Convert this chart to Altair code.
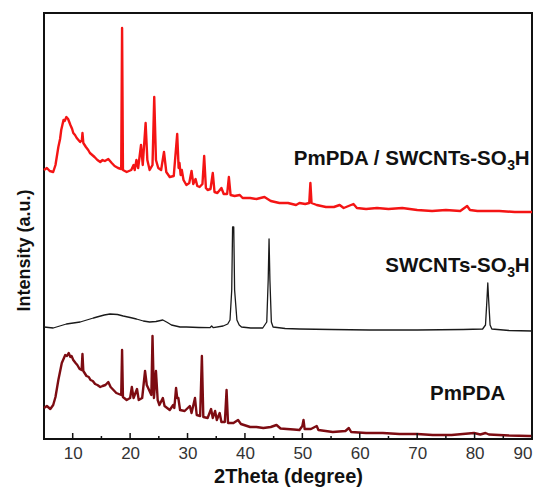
import altair as alt
import pandas as pd

# ---- PmPDA / SWCNTs-SO3H (red, top) ----
comp_theta = [5.0, 5.5, 6.0, 6.6, 7.0, 7.5, 7.8, 8.0, 8.2, 8.4, 8.6, 8.9, 9.2, 9.4, 9.6, 9.9, 10.1, 10.4,
              10.7, 11.0, 11.3, 11.6, 11.7, 11.85,
              12.3, 12.7, 13.0, 13.4, 13.8, 14.3, 14.8, 15.2, 15.6, 16.2, 16.8, 17.3, 17.9, 18.45, 18.6,
              18.75, 19.4, 20.2, 20.6, 20.8,
              21.1, 21.4, 21.9, 22.2, 22.7, 23.0, 23.4, 23.9, 24.2, 24.5, 24.9, 25.4, 25.9, 26.3, 26.9,
              27.6, 28.2, 28.45, 28.6, 28.8, 29.0, 29.3, 29.8, 30.3, 30.7, 31.0, 31.4, 31.7, 32.1, 32.6,
              32.9, 33.2, 33.5, 34.0, 34.4, 34.7, 35.2, 35.9, 36.3, 36.9, 37.2, 37.5, 38.2, 39.1, 39.6,
              40.9, 42.0, 43.4, 44.5, 46.0, 47.5, 48.9, 49.5, 50.5, 51.2, 51.4, 51.6, 52.5, 54.1, 55.5,
              56.5, 57.2, 58.9, 59.5, 61.1, 63.0, 65.0, 67.4, 70.0, 72.6, 75.0, 77.5, 78.7, 79.2, 80.5,
              84.3, 87.0, 89.5, 90.0]
comp_int = [269, 271, 268, 267, 274, 292, 300, 309, 314, 319, 318, 322, 320, 317, 314, 310, 306, 304,
            301, 299, 297, 299, 306, 296,
            292, 289, 286, 284, 282, 279, 277, 279, 278, 280, 276, 273, 271, 270, 411,
            269, 267, 269, 274, 269,
            279, 271, 294, 274, 316, 279, 269, 274, 342, 279, 271, 269, 287, 267, 262,
            263, 305, 271, 276, 264, 269, 259, 254, 256, 268, 255, 260, 253, 252, 255,
            283, 251, 249, 250, 266, 247, 246, 251, 245, 245, 262, 244, 243, 244, 241,
            241, 240, 242, 238, 236, 236, 234, 236, 235, 236, 256, 236, 234, 232, 232,
            234, 231, 235, 231, 230, 231, 230, 231, 229, 228, 229, 228, 233, 229, 228,
            228, 227, 227, 227]

# ---- SWCNTs-SO3H (black, middle) ----
swcnt_theta = [5.0, 6.6, 8.9, 11.3, 13.6, 15.5, 16.5, 17.8, 18.8, 20.0, 21.1, 22.3, 23.4, 24.5, 25.7,
               26.5, 27.2, 28.7, 29.8, 32.0, 33.9, 34.2, 34.5, 36.2, 37.0, 37.4, 37.7, 37.85, 38.05,
               38.2, 38.6, 39.0, 39.4, 41.0, 43.1, 43.8, 44.05, 44.2, 44.35, 44.6, 44.9, 47.0, 49.5,
               55.0, 61.7, 70.0, 78.0, 81.4, 81.9, 82.15, 82.3, 82.45, 82.7, 83.0, 86.0, 90.0]
swcnt_int = [112, 111, 115, 117, 121, 124, 125, 124.5, 123, 121.5, 120, 118, 117, 117.5, 119,
             116.5, 114, 112, 112, 111.5, 111.3, 113, 111.3, 113, 115, 119, 149, 212, 212,
             149, 119, 114, 112, 111, 111, 117, 159, 200, 159, 117, 112, 110.5, 110,
             109.5, 109, 109, 109.5, 110, 114, 139, 156, 139, 114, 110, 108.5, 108]

# ---- PmPDA (dark red, bottom) ----
pm_theta = [5.0, 5.5, 6.1, 6.6, 7.0, 7.5, 8.1, 8.4, 8.7, 9.0, 9.3, 9.6, 9.8, 10.1, 10.5, 10.8, 11.2,
            11.55, 11.7, 11.85, 12.4, 12.8,
            13.1, 13.5, 13.9, 14.3, 14.8, 15.2, 15.7, 16.2, 16.6, 17.1, 17.6, 18.45, 18.6, 18.75, 19.4,
            20.0, 20.3, 20.6,
            21.2, 21.5, 22.1, 22.6, 22.9, 23.3, 23.7, 23.9, 24.15, 24.5, 24.8, 25.1, 25.7, 26.0,
            26.9, 27.5, 27.7, 28.0, 28.2, 28.4, 28.7, 29.5, 30.4, 30.7, 31.3, 31.6, 32.2, 32.5,
            32.75, 33.5, 34.1, 34.4, 34.8, 35.1, 35.6, 35.9, 36.5, 36.8, 37.05, 38.0, 38.8, 39.3,
            40.9, 42.0, 43.2, 44.5, 45.5, 46.2, 47.3, 48.5, 49.5, 50.0, 50.2, 50.4, 51.5, 52.5,
            52.8, 55.3, 57.5, 58.1, 58.5, 61.1, 64.0, 66.9, 70.0, 72.7, 76.0, 79.9, 81.0, 81.9,
            82.5, 86.0, 89.5, 90.0]
pm_int = [31, 33, 30, 34, 42, 59, 76, 80, 84, 83, 86, 82, 83, 79, 76, 74, 70,
          69, 85, 68, 63, 62,
          59, 58, 55, 54, 52, 53, 54, 57, 52, 49, 46, 44, 89, 42, 39,
          41, 52, 41,
          50, 39, 41, 68, 54, 49, 44, 103, 41, 68, 39, 34, 41, 33,
          29, 34, 31, 51, 41, 41, 29, 28, 33, 26, 41, 24, 23, 83,
          22, 21, 30, 21, 28, 19, 26, 17, 17, 49, 16, 16, 19, 15,
          12, 12, 11, 12, 14, 10.5, 10, 9.5, 9, 13, 19, 10, 10, 13,
          9, 7, 8, 11, 7, 6, 6, 5, 5, 4, 4, 6, 4.5, 6,
          4.5, 3.5, 3, 3]

major_ticks = [10, 20, 30, 40, 50, 60, 70, 80, 90]
minor_ticks = [15, 25, 35, 45, 55, 65, 75, 85]

label_main = ["PmPDA / SWCNTs-SO", "SWCNTs-SO"]
label_main_theta = [85.6, 85.6]
label_main_int = [274, 167]
pm_label = ["PmPDA"]
pm_label_theta = [78.8]
pm_label_int = [39]

FONT = "Liberation Sans"

x_scale = alt.Scale(domain=[5, 90], nice=False, zero=False)
y_scale = alt.Scale(domain=[0, 426], nice=False, zero=False)

x_axis = alt.Axis(values=major_ticks, title="2Theta (degree)", ticks=False, domain=False, grid=False,
                  labelFontSize=17, labelFont=FONT, labelColor="#333333", labelPadding=6,
                  labelFlush=True, labelOverlap=False,
                  titleFontSize=20, titleFont=FONT, titleFontWeight="bold", titleColor="#111111",
                  titleY=43, titleBaseline="alphabetic")
y_axis = alt.Axis(labels=False, ticks=False, domain=False, grid=False, title="Intensity (a.u.)",
                  titleFontSize=18, titleFont=FONT, titleFontWeight="bold", titleColor="#111111",
                  titleX=-11, titleY=237, titleAngle=270, titleBaseline="bottom")

X = lambda: alt.X("theta:Q", scale=x_scale, axis=x_axis)
Y = lambda: alt.Y("intensity:Q", scale=y_scale, axis=y_axis)


def curve(theta, inten, color, width):
    df = pd.DataFrame({"theta": theta, "intensity": inten})
    return alt.Chart(df).mark_line(color=color, strokeWidth=width, strokeJoin="round").encode(
        x=X(), y=Y())


red = curve(comp_theta, comp_int, "#f41414", 2.4)
black = curve(swcnt_theta, swcnt_int, "#1a1a1a", 1.3)
dark = curve(pm_theta, pm_int, "#7d0c12", 2.4)

tick_df = pd.DataFrame({
    "theta": major_ticks + minor_ticks,
    "intensity": [0] * (len(major_ticks) + len(minor_ticks)),
    "top": [6] * len(major_ticks) + [3] * len(minor_ticks),
})
ticks = alt.Chart(tick_df).mark_rule(color="#111111", strokeWidth=1.5).encode(
    x=X(), y=Y(), y2="top:Q",
)

lab_df = pd.DataFrame({"text": label_main, "theta": label_main_theta, "intensity": label_main_int})
lab_main = alt.Chart(lab_df).mark_text(font=FONT, fontSize=20.5, fontWeight="bold", align="right",
                                       baseline="alphabetic", color="#111111").encode(
    x=X(), y=Y(), text="text:N",
)
lab_sub = alt.Chart(lab_df).mark_text(font=FONT, fontSize=14, fontWeight="bold", align="left",
                                      baseline="alphabetic", dx=0.5, dy=5, color="#111111").encode(
    x=X(), y=Y(), text=alt.value("3"),
)
lab_h = alt.Chart(lab_df).mark_text(font=FONT, fontSize=20.5, fontWeight="bold", align="left",
                                    baseline="alphabetic", dx=8, color="#111111").encode(
    x=X(), y=Y(), text=alt.value("H"),
)
pm_df = pd.DataFrame({"text": pm_label, "theta": pm_label_theta, "intensity": pm_label_int})
lab_pm = alt.Chart(pm_df).mark_text(font=FONT, fontSize=20.5, fontWeight="bold", align="center",
                                    baseline="alphabetic", color="#111111").encode(
    x=X(), y=Y(), text="text:N",
)

chart = alt.layer(red, black, dark, ticks, lab_main, lab_sub, lab_h, lab_pm).properties(
    width=488, height=426,
    autosize=alt.AutoSizeParams(type="none"),
    padding={"left": 36, "top": 5, "right": 3, "bottom": 48},
    background="white",
).configure_view(stroke="#111111", strokeWidth=2)

chart.save("out.html", embed_options={"renderer": "svg", "actions": False})
